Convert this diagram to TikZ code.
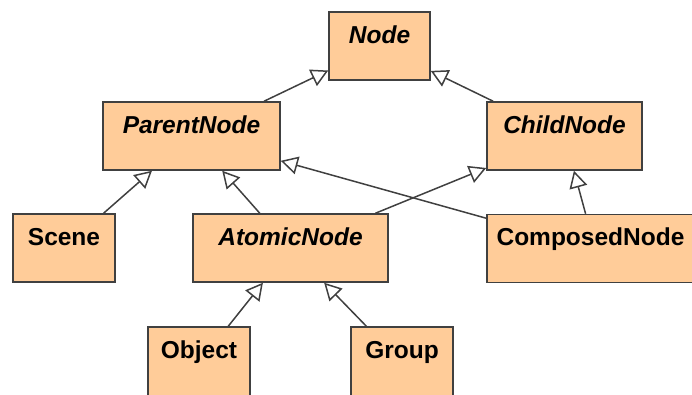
\documentclass[tikz,border=0pt]{standalone}
\usepackage{fontspec}
\setmainfont{Liberation Sans}
\usetikzlibrary{arrows.meta}
\definecolor{boxfill}{HTML}{FFCC99}
\definecolor{edge}{HTML}{404040}
\tikzset{
  classbox/.style={draw=edge, fill=boxfill, line width=1.5pt, rectangle,
    inner sep=0pt, minimum height=68pt, text height=31pt, text depth=37pt,
    font=\fontsize{24.5}{29}\selectfont\bfseries},
  abstractbox/.style={classbox, font=\fontsize{24.5}{29}\selectfont\bfseries\itshape},
  inherit/.style={draw=edge, line width=1.5pt,
    -{Triangle[length=17pt, width=18pt, fill=white, line join=miter]}},
}
\begin{document}
\begin{tikzpicture}[x=1pt, y=-1pt]
  \useasboundingbox (0,0) rectangle (692,394);
  \clip (0,0) rectangle (692,394);

  % classes
  \node[abstractbox, minimum width=101pt] (node)   at (379.5,46)  {Node};
  \node[abstractbox, minimum width=177pt] (parent) at (191.5,136) {ParentNode};
  \node[abstractbox, minimum width=155pt] (child)  at (564.5,136) {ChildNode};
  \node[classbox,    minimum width=102pt] (scene)  at (64,248)    {Scene};
  \node[abstractbox, minimum width=195pt] (atomic) at (290.5,248) {AtomicNode};
  \node[classbox,    minimum width=216pt] (composed) at (595,248.5) {\hspace*{-9pt}ComposedNode};
  \node[classbox,    minimum width=102pt, minimum height=72pt, text depth=41pt] (object) at (199,363) {Object};
  \node[classbox,    minimum width=102pt, minimum height=72pt, text depth=41pt] (group)  at (402,363) {Group};

  % generalizations
  \draw[inherit] (parent) -- (node);
  \draw[inherit] (child) -- (node);
  \draw[inherit] (scene) -- (parent);
  \draw[inherit] (atomic) -- (parent);
  \draw[inherit] (atomic) -- (child);
  \draw[inherit] (composed) -- (parent);
  \draw[inherit] (composed) -- (child);
  \draw[inherit] (object) -- (atomic);
  \draw[inherit] (group) -- (atomic);
\end{tikzpicture}
\end{document}
